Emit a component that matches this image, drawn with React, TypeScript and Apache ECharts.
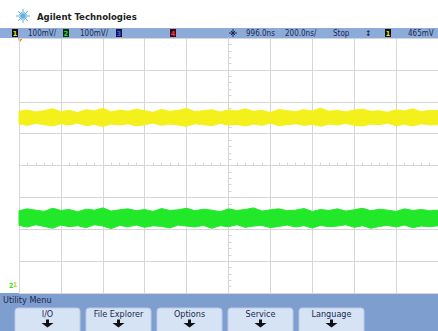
import React, { useEffect, useRef } from "react";
import * as echarts from "echarts";

// sample times in divisions (screen spans -5..5 div)
const sampleCount = 51;
const times: number[] = Array.from({ length: sampleCount }, (_, i) => -5 + i * 0.2);

// channel 1 (yellow) noise envelope, in divisions
const yellowHigh = [1.70,1.74,1.68,1.72,1.78,1.69,1.73,1.66,1.75,1.71,1.80,1.68,1.74,1.70,1.77,1.72,1.67,1.76,1.70,1.73,1.79,1.69,1.72,1.75,1.68,1.74,1.71,1.78,1.70,1.73,1.66,1.76,1.72,1.69,1.75,1.71,1.80,1.70,1.73,1.68,1.74,1.77,1.70,1.72,1.67,1.75,1.71,1.78,1.69,1.73,1.72];
const yellowLow = [1.30,1.26,1.32,1.28,1.24,1.31,1.27,1.33,1.25,1.29,1.22,1.30,1.27,1.31,1.24,1.28,1.33,1.26,1.30,1.27,1.23,1.31,1.28,1.25,1.32,1.27,1.29,1.24,1.30,1.26,1.33,1.25,1.28,1.31,1.26,1.29,1.23,1.30,1.27,1.32,1.26,1.24,1.30,1.28,1.33,1.25,1.29,1.24,1.31,1.27,1.28];
// channel 2 (green) noise envelope, in divisions
const greenHigh = [-1.42,-1.36,-1.40,-1.44,-1.34,-1.41,-1.38,-1.45,-1.37,-1.40,-1.33,-1.43,-1.39,-1.36,-1.42,-1.38,-1.44,-1.35,-1.41,-1.39,-1.34,-1.42,-1.37,-1.40,-1.45,-1.36,-1.41,-1.38,-1.33,-1.43,-1.39,-1.36,-1.42,-1.40,-1.35,-1.44,-1.38,-1.41,-1.36,-1.43,-1.39,-1.34,-1.42,-1.37,-1.40,-1.44,-1.36,-1.41,-1.38,-1.42,-1.40];
const greenLow = [-1.88,-1.93,-1.86,-1.91,-1.97,-1.87,-1.92,-1.89,-1.95,-1.86,-1.90,-1.98,-1.88,-1.92,-1.87,-1.94,-1.89,-1.91,-1.96,-1.87,-1.90,-1.93,-1.88,-1.97,-1.89,-1.92,-1.86,-1.94,-1.90,-1.88,-1.95,-1.91,-1.87,-1.93,-1.89,-1.96,-1.88,-1.92,-1.90,-1.86,-1.94,-1.89,-1.97,-1.91,-1.88,-1.93,-1.87,-1.95,-1.90,-1.92,-1.89];

const statusTexts = ["100mV/", "100mV/", "996.0ns", "200.0ns/", "Stop", "465mV"];
const menuButtons = ["I/O", "File Explorer", "Options", "Service", "Language"];

const YELLOW = "#f4f01c";
const GREEN = "#22e82a";
const NAVY = "#1c2850";
const FONT = "'DejaVu Sans Condensed', 'Liberation Sans Narrow', 'Liberation Sans', sans-serif";

function starburst(cx: number, cy: number, long: number, short: number, color: string, n: number) {
  const els: any[] = [];
  for (let i = 0; i < n; i++) {
    const a = (i * 2 * Math.PI) / n;
    const len = i % 2 === 0 ? long : short;
    els.push({
      type: "line",
      shape: { x1: cx, y1: cy, x2: cx + Math.cos(a) * len, y2: cy + Math.sin(a) * len },
      style: { stroke: color, lineWidth: 1 },
    });
  }
  return els;
}

function bandSeries(hi: number[], lo: number[], color: string) {
  return {
    type: "custom",
    data: [0],
    z: 3,
    renderItem: (_params: any, api: any) => {
      const pts: number[][] = [];
      times.forEach((t, i) => pts.push(api.coord([t, hi[i]])));
      for (let i = times.length - 1; i >= 0; i--) pts.push(api.coord([times[i], lo[i]]));
      return {
        type: "polygon",
        shape: { points: pts },
        style: { fill: color, stroke: color, lineWidth: 1 },
      };
    },
  };
}

export default function App() {
  const ref = useRef<HTMLDivElement>(null);
  useEffect(() => {
    document.body.style.margin = "0";
    const chart = echarts.init(ref.current!, null, { renderer: "svg" });

    const graphics: any[] = [];
    // logo
    graphics.push(...starburst(23, 16, 7, 4, "#5eaee0", 16));
    graphics.push({ type: "text", x: 37, y: 16, style: { text: "Agilent Technologies", font: "bold 9.5px " + FONT, fill: "#222", verticalAlign: "middle" } });
    // status bar
    graphics.push({ type: "rect", shape: { x: 0, y: 28, width: 438, height: 10 }, style: { fill: "#8dabd9" } });
    const box = (x: number, label: string, fill: string, color: string) => {
      graphics.push({ type: "rect", shape: { x, y: 29, width: 6, height: 8 }, style: { fill } });
      graphics.push({ type: "text", x: x + 3, y: 33.5, style: { text: label, font: "bold 7px " + FONT, fill: color, align: "center", verticalAlign: "middle" } });
    };
    box(12, "1", "#111", YELLOW);
    box(63, "2", "#0d2a10", GREEN);
    box(116, "3", "#101840", "#4060ff");
    box(170, "4", "#3a0c10", "#ff3040");
    box(385, "1", "#111", YELLOW);
    const stX = [28, 80, 246, 285, 333, 408];
    statusTexts.forEach((t, i) => {
      graphics.push({ type: "text", x: stX[i], y: 33.5, style: { text: t, font: "8px " + FONT, fill: NAVY, verticalAlign: "middle" } });
    });
    graphics.push(...starburst(233, 33, 4, 3, NAVY, 8));
    graphics.push({ type: "text", x: 368, y: 33.5, style: { text: "↕", font: "bold 8px " + FONT, fill: NAVY, align: "center", verticalAlign: "middle" } });
    // trigger marker
    graphics.push({ type: "polygon", shape: { points: [[18, 38], [23, 38], [19.5, 43]] }, style: { fill: "#e0902a" } });
    // ground markers
    graphics.push({ type: "text", x: 9, y: 286, style: { text: "2", font: "bold 7px " + FONT, fill: GREEN, verticalAlign: "middle" } });
    graphics.push({ type: "text", x: 13, y: 285, style: { text: "1", font: "bold 7px " + FONT, fill: "#d8d020", verticalAlign: "middle" } });
    // menu area
    graphics.push({ type: "rect", shape: { x: 0, y: 293, width: 438, height: 38 }, style: { fill: "#7e9ecf" } });
    graphics.push({ type: "text", x: 3, y: 300, style: { text: "Utility Menu", font: "9px " + FONT, fill: NAVY, verticalAlign: "middle" } });
    const btnX = [15, 86, 157, 228, 299];
    menuButtons.forEach((t, i) => {
      const x = btnX[i];
      const cx = x + 32.5;
      graphics.push({ type: "rect", shape: { x, y: 308, width: 65, height: 26, r: 3 }, style: { fill: "#d6e3f5", stroke: "#b9cbe6", lineWidth: 1 } });
      graphics.push({ type: "text", x: cx, y: 314, style: { text: t, font: "9px " + FONT, fill: NAVY, align: "center", verticalAlign: "middle" } });
      graphics.push({ type: "rect", shape: { x: cx - 1.5, y: 319.5, width: 3, height: 4 }, style: { fill: "#111" } });
      graphics.push({ type: "polygon", shape: { points: [[cx - 6, 323], [cx + 6, 323], [cx, 327.5]] }, style: { fill: "#111" } });
    });

    const gridColor = "#d6d6d6";
    chart.setOption({
      animation: false,
      backgroundColor: "#ffffff",
      grid: { left: 19, right: -1, top: 38, height: 255, containLabel: false },
      xAxis: {
        type: "value", min: -5, max: 5, interval: 1,
        axisLabel: { show: false },
        axisLine: { show: true, onZero: true, lineStyle: { color: gridColor } },
        axisTick: { show: true, inside: true, length: 3, lineStyle: { color: gridColor } },
        minorTick: { show: true, splitNumber: 5, length: 3, lineStyle: { color: gridColor } },
        splitLine: { show: true, lineStyle: { color: gridColor, width: 1 } },
      },
      yAxis: {
        type: "value", min: -4, max: 4, interval: 1,
        axisLabel: { show: false },
        axisLine: { show: true, onZero: true, lineStyle: { color: gridColor } },
        axisTick: { show: true, inside: true, length: 3, lineStyle: { color: gridColor } },
        minorTick: { show: true, splitNumber: 5, length: 3, lineStyle: { color: gridColor } },
        splitLine: { show: true, lineStyle: { color: gridColor, width: 1 } },
      },
      series: [
        bandSeries(yellowHigh, yellowLow, YELLOW),
        bandSeries(greenHigh, greenLow, GREEN),
      ],
      graphic: { elements: graphics },
    });
    return () => chart.dispose();
  }, []);
  return <div ref={ref} style={{ width: 438, height: 331 }} />;
}
